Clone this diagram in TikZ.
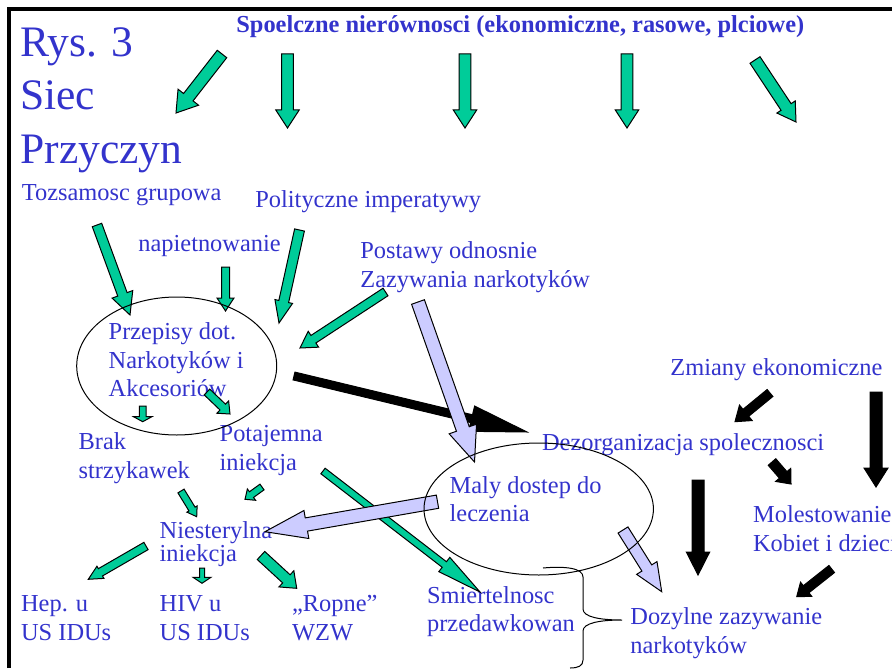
\documentclass[tikz,border=0pt]{standalone}
\usepackage{fontspec}
\setmainfont{Liberation Serif}
\usetikzlibrary{calc}
\usetikzlibrary{shapes.geometric}
\definecolor{txtblue}{RGB}{51,51,204}
\definecolor{arrgreen}{RGB}{0,204,153}
\definecolor{arrlilac}{RGB}{204,204,255}

% fat arrow: style, tail, tip, half shaft, half head, head length (in px)
\newcommand\blockarrow[6]{%
\path[#1] let \p1=(#2), \p2=(#3), \n1={veclen(\x2-\x1,\y2-\y1)},
  \n2={(\x2-\x1)/\n1}, \n3={(\y2-\y1)/\n1},
  \n4={#4*0.5}, \n5={#5*0.5}, \n6={\n1-#6*0.5} in
  ({\x1-\n4*\n3},{\y1+\n4*\n2})
  -- ({\x1+\n6*\n2-\n4*\n3},{\y1+\n6*\n3+\n4*\n2})
  -- ({\x1+\n6*\n2-\n5*\n3},{\y1+\n6*\n3+\n5*\n2})
  -- (\x2,\y2)
  -- ({\x1+\n6*\n2+\n5*\n3},{\y1+\n6*\n3-\n5*\n2})
  -- ({\x1+\n6*\n2+\n4*\n3},{\y1+\n6*\n3-\n4*\n2})
  -- ({\x1+\n4*\n3},{\y1-\n4*\n2}) -- cycle;}

\begin{document}
\begin{tikzpicture}[x=0.5pt,y=-0.5pt,
  lbl/.style={text=txtblue,inner sep=0pt,anchor=base west,align=left,font=\fontsize{12.2}{14.2}\selectfont},
  garrow/.style={fill=arrgreen,draw=black,line width=0.5pt},
  larrow/.style={fill=arrlilac,draw=black,line width=0.5pt},
  karrow/.style={fill=black,draw=black,line width=0.5pt},
  oval/.style={draw,ellipse,inner sep=0pt,line width=0.5pt}]
\useasboundingbox (0,0) rectangle (892,668);
\clip (0,0) rectangle (892,668);

\draw[line width=2pt] (9,668) -- (9,9) -- (892,9);

% multi-line labels sit on the baseline of their last line
\node[lbl,font=\fontsize{21.75}{26.5}\selectfont] (rys) at (20,163) {Rys. 3\\Siec\\Przyczyn};
\node[lbl,font=\bfseries\fontsize{12.2}{14.2}\selectfont] (nierow) at (236,33) {Spoelczne nierównosci (ekonomiczne, rasowe, plciowe)};

\node[lbl] (toz) at (21.5,200) {Tozsamosc grupowa};
\node[lbl] (polit) at (255,207) {Polityczne imperatywy};
\node[lbl] (napiet) at (138,251) {napietnowanie};
\node[lbl] (postawy) at (360,287) {Postawy odnosnie\\Zazywania narkotyków};
\node[lbl] (przepisy) at (108.3,396.7) {Przepisy dot.\\Narkotyków i\\Akcesoriów};
\node[lbl] (zmiany) at (670,375) {Zmiany ekonomiczne};
\node[lbl] (dezorg) at (541.7,450) {Dezorganizacja spolecznosci};
\node[lbl] (maly) at (449.3,521.7) {Maly dostep do\\leczenia};
\node[lbl] (molest) at (752.7,551) {Molestowanie\\Kobiet i dzieci};
\node[lbl] (brak) at (78.3,478.3) {Brak\\strzykawek};
\node[lbl] (potaj) at (219.3,470) {Potajemna\\iniekcja};
\node[lbl,font=\fontsize{12.2}{11.5}\selectfont] (niest) at (159.3,561.5) {Niesterylna\\iniekcja};
\node[lbl] (hep) at (20.7,640) {Hep. u\\US IDUs};
\node[lbl] (hiv) at (159.3,640) {HIV u\\US IDUs};
\node[lbl] (ropne) at (291.7,640) {„Ropne”\\WZW};
\node[lbl] (smiert) at (426.7,631.7) {Smiertelnosc\\przedawkowan};
\node[lbl] (dozylne) at (630,653.3) {Dozylne zazywanie\\narkotyków};

\foreach \nm/\xa/\ya/\xb/\yb/\s/\h/\l in {
  g1/222/54/176/113/6/13/20, g2/287.5/54/287.5/128/5.8/11.7/18,
  g3/465/54/465/128/5.8/11.7/18, g4/627/54/627/128/5.8/11.7/18,
  g5/755/60/796/122/6/11/18, g6/97/225/130/315/5/11/22,
  g7/225.5/267/225.5/311/4/8.5/13, g8/299.5/230/279/323/5/9/22,
  g9/385.5/292/300/348/4.5/9.5/16, g10/207/392/230/414/4/8.5/10,
  g11/142.7/406/142.7/421.7/3.3/9.2/5, g12/181/491/196.7/516.7/3.6/6/9,
  g13/262/487/245/499.3/3.5/7/8, g14/146/546/88.3/579.3/4.2/7/14,
  g15/202/568/202/583.3/2.5/9/6, g16/261/555.5/296.7/588.3/5.5/11/14,
  g17/323/471/480/592/3.5/9/45}
  {\coordinate (\nm-t) at (\xa,\ya); \coordinate (\nm-h) at (\xb,\yb);
   \blockarrow{garrow}{\nm-t}{\nm-h}{\s}{\h}{\l}}

\foreach \nm/\xa/\ya/\xb/\yb/\s/\h/\l in {
  k1/294/376/527/432/4/13/57, k2/770/393/735/421.7/4.5/10/14,
  k3/876/392/876/487/6/12/19, k4/772/462/791/484/5/10/12,
  k5/698/480/698/575/6/11.7/23, k6/831.7/569/796.7/596.7/4.5/9/12}
  {\coordinate (\nm-t) at (\xa,\ya); \coordinate (\nm-h) at (\xb,\yb);
   \blockarrow{karrow}{\nm-t}{\nm-h}{\s}{\h}{\l}}

\foreach \nm/\xa/\ya/\xb/\yb/\s/\h/\l in {
  l1/418/302/474.5/462/6.8/14.5/35, l2/437.5/501.7/265/531.7/6.7/14.2/42,
  l3/623/530/661.7/591.7/5.8/12/28}
  {\coordinate (\nm-t) at (\xa,\ya); \coordinate (\nm-h) at (\xb,\yb);
   \blockarrow{larrow}{\nm-t}{\nm-h}{\s}{\h}{\l}}

\node[oval,minimum width=100pt,minimum height=69pt] (przepisyov) at (176.7,366) {};
\node[oval,minimum width=114.7pt,minimum height=66pt] (dostepov) at (538.7,509) {};

\draw[line width=0.5pt] (543,568) .. controls (565,566) and (583,568) .. (583,577) -- (583,609)
  .. controls (583,617) and (600,620) .. (622,620) .. controls (600,620) and (583,623) .. (583,631)
  -- (583,660) .. controls (583,666) and (578,668) .. (570,668);
\end{tikzpicture}
\end{document}
